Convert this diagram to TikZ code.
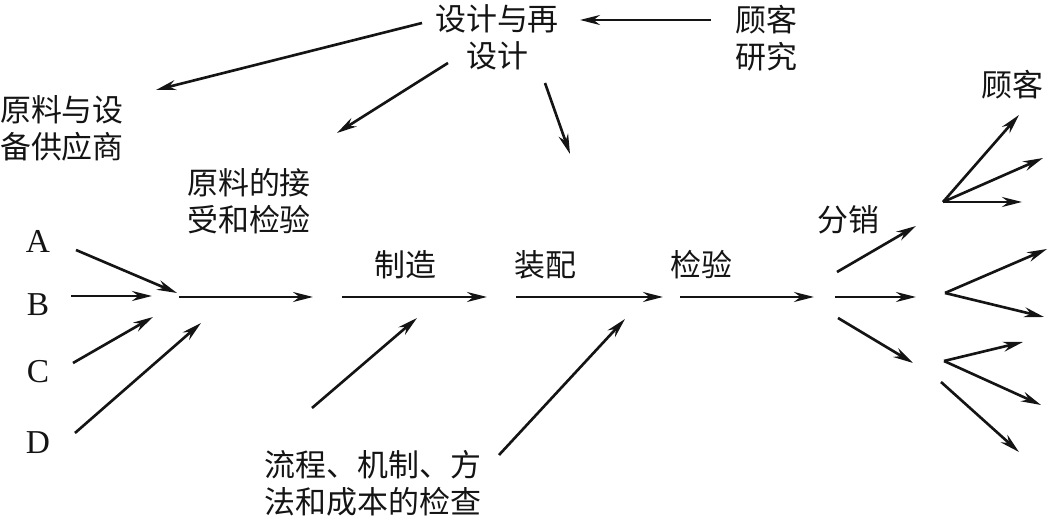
\documentclass[tikz,border=0pt]{standalone}
\usepackage{fontspec}
\setmainfont{Liberation Serif}
\newfontfamily\cjk{Noto Sans CJK SC}
\usetikzlibrary{arrows.meta,positioning}
\definecolor{ink}{RGB}{20,20,20}

\begin{document}
\begin{tikzpicture}[
  x=0.01cm,y=-0.01cm,
  lbl/.style={align=center,inner sep=0pt,text=ink,
              font=\cjk\fontsize{8.8}{10.5}\selectfont},
  src/.style={inner sep=0pt,text=ink,font=\fontsize{9.5}{11}\selectfont},
  arr/.style={-{Stealth[length=2mm,width=1mm,inset=0.65mm]},ink,line width=0.75pt}
]
\useasboundingbox (0,0) rectangle (1048,516);

\node[lbl] (sj)   at (497,37)  {设计与再\\设计};
\node[lbl] (gkyj) at (766,38)  {顾客\\研究};
\node[lbl] (gys)  at (62,128)  {原料与设\\备供应商};
\node[lbl] (jsjy) at (249,201) {原料的接\\受和检验};
\node[lbl] (zz)   at (405,265) {制造};
\node[lbl] (zp)   at (545,265) {装配};
\node[lbl] (jy)   at (701,265) {检验};
\node[lbl] (fx)   at (848,220) {分销};
\node[lbl] (gk)   at (1012,85) {顾客};
\node[lbl] (jc)   at (373,483) {流程、机制、方\\法和成本的检查};

\node[src] (a) at (38,241) {A};
\node[src] (b) at (38,305) {B};
\node[src] (c) at (38,372) {C};
\node[src] (d) at (38,443) {D};

% upper feedback
\coordinate (gkyj-out) at (711,20);
\coordinate (sj-in)    at (580,20);
\coordinate (sj-o1)    at (422,23);
\coordinate (gys-in)   at (156,90);
\coordinate (sj-o2)    at (448,63);
\coordinate (jsjy-in)  at (337,133);
\coordinate (sj-o3)    at (545,83);
\coordinate (zp-in)    at (570,154);

% main line
\coordinate (a-out) at (76,250);
\coordinate (b-out) at (71,296);
\coordinate (c-out) at (73,363);
\coordinate (d-out) at (75,433);
\coordinate (m0) at (177,293);
\coordinate (m0b) at (152,296);
\coordinate (m0c) at (153,317);
\coordinate (m0d) at (201,323);
\coordinate (m1s) at (179,297);
\coordinate (m1e) at (313,297);
\coordinate (m2s) at (342,297);
\coordinate (m2e) at (487,297);
\coordinate (m3s) at (516,297);
\coordinate (m3e) at (663,297);
\coordinate (m4s) at (680,297);
\coordinate (m4e) at (814,297);
\coordinate (m5s) at (835,297);
\coordinate (m5e) at (916,297);

% distribution
\coordinate (fx-up0) at (837,272);
\coordinate (fx-up1) at (916,226);
\coordinate (fx-dn0) at (838,318);
\coordinate (fx-dn1) at (913,363);
\coordinate (jc-o1) at (312,408);
\coordinate (zz-in) at (417,318);
\coordinate (jc-o2) at (499,455);
\coordinate (zp-in2) at (625,319);

\coordinate (f1) at (943,202);
\coordinate (f2) at (945,293);
\coordinate (f3) at (944,361);
\coordinate (f4) at (941,382);

\draw[arr] (gkyj-out) -- (sj-in);
\draw[arr] (sj-o1) -- (gys-in);
\draw[arr] (sj-o2) -- (jsjy-in);
\draw[arr] (sj-o3) -- (zp-in);

\draw[arr] (a-out) -- (m0);
\draw[arr] (b-out) -- (m0b);
\draw[arr] (c-out) -- (m0c);
\draw[arr] (d-out) -- (m0d);
\draw[arr] (m1s) -- (m1e);
\draw[arr] (m2s) -- (m2e);
\draw[arr] (m3s) -- (m3e);
\draw[arr] (m4s) -- (m4e);
\draw[arr] (m5s) -- (m5e);
\draw[arr] (fx-up0) -- (fx-up1);
\draw[arr] (fx-dn0) -- (fx-dn1);
\draw[arr] (jc-o1) -- (zz-in);
\draw[arr] (jc-o2) -- (zp-in2);

\draw[arr] (f1) -- (1019,115);
\draw[arr] (f1) -- (1043,158);
\draw[arr] (f1) -- (1022,202);
\draw[arr] (f2) -- (1047,249);
\draw[arr] (f2) -- (1044,317);
\draw[arr] (f3) -- (1023,342);
\draw[arr] (f3) -- (1041,405);
\draw[arr] (f4) -- (1019,452);
\end{tikzpicture}
\end{document}
